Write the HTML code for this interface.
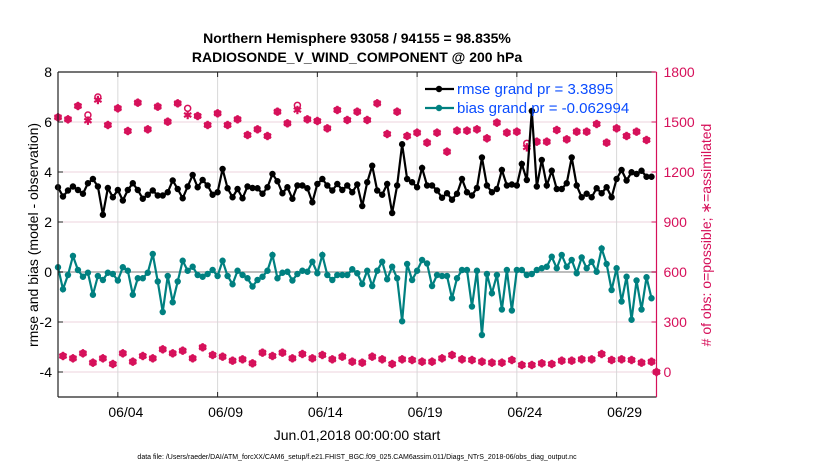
<!DOCTYPE html>
<html><head><meta charset="utf-8"><style>
body{margin:0;background:#fff;width:830px;height:470px;overflow:hidden}
svg{font-family:"Liberation Sans",sans-serif}
</style></head><body>
<svg id="c" width="830" height="470">
<text x="357" y="43" text-anchor="middle" font-weight="bold" font-size="14">Northern Hemisphere 93058 / 94155 = 98.835%</text>
<text x="357" y="62" text-anchor="middle" font-weight="bold" font-size="14">RADIOSONDE_V_WIND_COMPONENT @ 200 hPa</text>
<text transform="translate(38,235) rotate(-90)" text-anchor="middle" font-size="14">rmse and bias (model - observation)</text>
<text transform="translate(711,235) rotate(-90)" text-anchor="middle" font-size="14" fill="#d6105a"># of obs: o=possible; ∗=assimilated</text>
<text x="357" y="440" text-anchor="middle" font-size="14">Jun.01,2018 00:00:00 start</text>
<text x="357" y="459" text-anchor="middle" font-size="7">data file: /Users/raeder/DAI/ATM_forcXX/CAM6_setup/f.e21.FHIST_BGC.f09_025.CAM6assim.011/Diags_NTrS_2018-06/obs_diag_output.nc</text>
<g id="plot"></g>
</svg>
<script>
const dayTicks=[3,8,13,18,23,28];
const dayLabels=["06/04","06/09","06/14","06/19","06/24","06/29"];
const leftTicks=[8,6,4,2,0,-2,-4];
const rightTicks=[1800,1500,1200,900,600,300,0];
const rmse=[3.39,3.02,3.26,3.42,3.28,3.13,3.55,3.72,3.42,2.29,3.36,2.99,3.28,2.86,3.28,3.55,3.28,2.93,3.09,3.26,3.06,3.06,3.19,3.66,3.32,2.95,3.42,3.88,3.39,3.68,3.46,3.09,3.19,4.12,3.35,2.99,3.32,2.95,3.42,3.36,3.35,
3.13,3.39,3.92,3.63,3.15,3.39,2.93,3.46,3.46,3.35,2.79,3.52,3.72,3.46,3.26,3.52,3.28,3.46,3.19,3.50,2.64,3.59,4.25,3.26,3.09,3.52,2.36,3.46,5.11,3.72,3.59,3.39,4.16,3.46,3.46,3.26,2.97,3.15,2.89,3.13,
3.72,3.19,3.06,3.36,4.58,3.46,3.19,3.32,4.08,3.46,3.50,3.46,4.32,3.68,6.44,3.42,4.48,3.46,4.05,3.32,3.32,3.55,4.58,3.46,2.99,3.13,2.99,3.35,3.15,3.39,2.99,3.72,4.08,3.66,3.99,3.92,4.05,3.81,3.81];
const bias=[0.19,-0.69,-0.12,0.64,0.08,-0.19,-0.03,-0.91,-0.16,-0.32,-0.03,-0.08,-0.34,0.19,0.05,-0.91,-0.25,-0.25,-0.03,0.72,-0.38,-1.60,-0.16,-1.21,-0.38,0.45,0.05,0.21,-0.12,-0.19,-0.08,0.08,-0.16,0.45,-0.16,-0.49,0.05,-0.12,-0.25,-0.58,-0.32,
-0.19,0.05,0.68,-0.25,-0.03,0.01,-0.34,-0.08,0.05,0.01,0.41,-0.05,0.68,-0.12,-0.32,-0.12,-0.12,-0.12,0.11,-0.05,-0.48,0.05,-0.56,0.05,0.41,-0.29,0.21,-0.25,-1.97,0.32,-0.32,0.05,0.48,0.34,-0.56,-0.12,-0.16,-0.16,-1.05,-0.25,
0.08,0.08,-1.38,0.05,-2.52,-0.08,-0.85,-0.12,-1.50,0.08,-1.54,0.08,0.08,-0.12,-0.08,0.08,0.15,0.21,0.61,0.15,0.68,0.21,0.48,-0.05,0.58,0.15,0.41,0.01,0.94,0.32,-0.72,0.15,-1.18,-0.19,-1.91,-0.34,-1.50,-0.21,-1.05];
const obsPossible=[1528,96,1516,82,1596,112,1542,56,1650,82,1482,48,1582,112,1446,62,1616,96,1456,82,1592,136,1502,112,1612,128,1582,82,1536,148,1482,102,1552,92,1482,68,1516,76,1422,52,
1456,116,1416,96,1562,116,1492,82,1600,108,1516,82,1506,102,1462,76,1572,92,1512,62,1562,56,1512,92,1612,76,1428,48,1562,76,1416,72,1436,62,1376,62,1436,82,1322,102,
1448,76,1448,72,1456,62,1402,56,1496,56,1436,72,1442,42,1372,42,1382,52,1382,48,1452,68,1396,68,1442,76,1442,76,1488,108,1376,72,1462,76,1416,72,1442,56,1392,62,0];
const obsAssim=[1528,96,1516,82,1596,112,1508,56,1632,82,1482,48,1582,112,1446,62,1616,96,1456,82,1592,136,1502,112,1612,128,1542,82,1536,148,1482,102,1552,92,1482,68,1516,76,1422,52,
1456,116,1416,96,1562,116,1492,82,1572,108,1516,82,1506,102,1462,76,1572,92,1512,62,1562,56,1512,92,1612,76,1428,48,1562,76,1416,72,1436,62,1376,62,1436,82,1322,102,
1448,76,1448,72,1456,62,1402,56,1496,56,1436,72,1442,42,1348,42,1382,52,1382,48,1452,68,1396,68,1442,76,1442,76,1488,108,1376,72,1462,76,1416,72,1442,56,1392,62,0];

const NS='http://www.w3.org/2000/svg';
const g=document.getElementById('plot');
const X0=58,X1=656.5,Y0=72,Y1=397;
const xs=d=>X0+d*(X1-X0)/30;
const yL=v=>272-v*25;
const yR=v=>372-v/6;
const PINK='#d6105a',TEAL='#008080';
function mk(t,a,p){const e=document.createElementNS(NS,t);for(const k in a)e.setAttribute(k,a[k]);(p||g).appendChild(e);return e;}

leftTicks.forEach(v=>{const l=mk('line',{x1:X0,x2:X1,y1:yL(v),y2:yL(v),stroke:'#ecd3de','stroke-width':1});

});
dayTicks.forEach(d=>{const l=mk('line',{x1:xs(d),x2:xs(d),y1:Y0,y2:Y1,stroke:'#d8d8d8','stroke-width':1});

});
const z=mk('line',{x1:X0,x2:X1,y1:yL(0),y2:yL(0),stroke:'#bdbdbd','stroke-width':2});



function star(cx,cy,grp){const r=4.2;for(let k=0;k<3;k++){const a=k*Math.PI/3+Math.PI/2;mk('line',{x1:cx-r*Math.cos(a),y1:cy-r*Math.sin(a),x2:cx+r*Math.cos(a),y2:cy+r*Math.sin(a),stroke:PINK,'stroke-width':2.2},grp);}}
const pg=mk('g',{});


obsPossible.forEach((v,i)=>{const c=mk('circle',{cx:xs(i/4),cy:yR(v),r:3,fill:'none',stroke:PINK,'stroke-width':1.5},pg);

});
const ag=mk('g',{});


obsAssim.forEach((v,i)=>star(xs(i/4),yR(v),ag));

function series(vals,color,name){const grp=mk('g',{});


mk('polyline',{points:vals.map((v,i)=>xs(i/4)+','+yL(v)).join(' '),fill:'none',stroke:color,'stroke-width':2.2},grp);
vals.forEach((v,i)=>{const c=mk('circle',{cx:xs(i/4),cy:yL(v),r:3.2,fill:color},grp);

});}
series(rmse,'#000','rmse-series');
series(bias,TEAL,'bias-series');

// axes
mk('line',{x1:X0,x2:X0,y1:Y0,y2:Y1,stroke:'#222','stroke-width':1.2});
mk('line',{x1:X0,x2:X1,y1:Y1,y2:Y1,stroke:'#222','stroke-width':1.2});
mk('line',{x1:X0,x2:X1-1,y1:Y0,y2:Y0,stroke:'#222','stroke-width':1.2});
mk('line',{x1:X1,x2:X1,y1:Y0,y2:Y1,stroke:PINK,'stroke-width':1.2});
leftTicks.forEach(v=>{mk('line',{x1:X0,x2:X0+5,y1:yL(v),y2:yL(v),stroke:'#222'});
const t=mk('text',{x:X0-6,y:yL(v)+5,'text-anchor':'end','font-size':14});t.textContent=v;

});
rightTicks.forEach(v=>{mk('line',{x1:X1-5,x2:X1,y1:yR(v),y2:yR(v),stroke:PINK});
const t=mk('text',{x:X1+7,y:yR(v)+5,'font-size':14,fill:PINK});t.textContent=v;

});
dayTicks.forEach((d,i)=>{mk('line',{x1:xs(d),x2:xs(d),y1:Y1,y2:Y1-5,stroke:'#222'});mk('line',{x1:xs(d),x2:xs(d),y1:Y0,y2:Y0+5,stroke:'#222'});
const t=mk('text',{x:xs(d)+8,y:Y1+20,'text-anchor':'middle','font-size':14});t.textContent=dayLabels[i];

});

// legend
const lg=mk('g',{});


[['#000','rmse grand pr = 3.3895',89],[TEAL,'bias grand pr = -0.062994',108]].forEach(([c,txt,y])=>{
mk('line',{x1:425,x2:454,y1:y,y2:y,stroke:c,'stroke-width':2.2},lg);mk('circle',{cx:439,cy:y,r:3.2,fill:c},lg);
const t=mk('text',{x:457,y:y+5,'font-size':15,fill:'#0a4cff'},lg);t.textContent=txt;

});
</script>
</body></html>
